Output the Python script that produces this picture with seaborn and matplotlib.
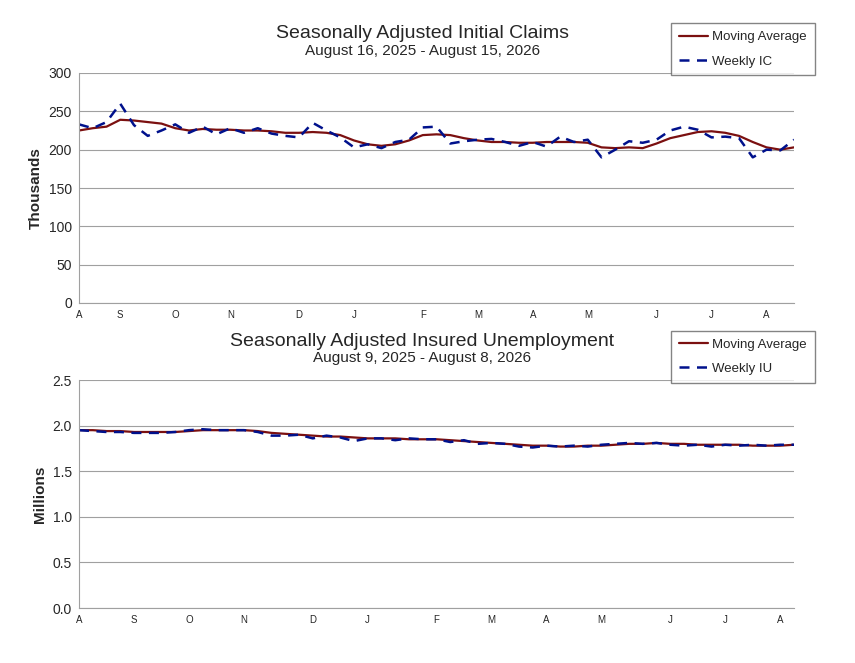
import matplotlib
matplotlib.use("Agg")
import matplotlib.pyplot as plt
import seaborn as sns
import numpy as np

sns.set_style("white")
plt.rcParams['font.family'] = ['Liberation Sans', 'DejaVu Sans']

# weekly initial claims (thousands)
ic_weekly = [233, 228, 236, 260, 232, 218, 225, 233, 222, 230, 220, 228, 222, 228, 221,
             218, 216, 235, 225, 216, 203, 207, 202, 210, 213, 229, 230, 208, 211, 213,
             214, 210, 205, 210, 204, 217, 210, 213, 190, 200, 211, 209, 213, 225, 230,
             226, 216, 217, 215, 190, 200, 199, 213]
ic_ma = [225, 228, 230, 239, 238, 236, 234, 228, 225, 227, 226, 226, 225, 225, 224,
         222, 222, 223, 222, 219, 212, 207, 205, 207, 212, 219, 220, 219, 215, 212,
         210, 210, 209, 209, 210, 210, 210, 209, 203, 202, 203, 202, 208, 215, 219,
         223, 224, 222, 218, 210, 203, 200, 203]
ic_ticks = [0, 3, 7, 11, 16, 20, 25, 29, 33, 37, 42, 46, 50]
ic_labels = ['A', 'S', 'O', 'N', 'D', 'J', 'F', 'M', 'A', 'M', 'J', 'J', 'A']

# weekly insured unemployment (millions)
iu_weekly = [1.95, 1.94, 1.93, 1.93, 1.92, 1.92, 1.92, 1.93, 1.95, 1.96, 1.95, 1.95, 1.95,
             1.93, 1.89, 1.89, 1.90, 1.86, 1.89, 1.87, 1.83, 1.86, 1.86, 1.84, 1.86, 1.85,
             1.85, 1.82, 1.84, 1.80, 1.81, 1.80, 1.77, 1.76, 1.78, 1.77, 1.78, 1.77, 1.79,
             1.80, 1.81, 1.80, 1.81, 1.79, 1.78, 1.79, 1.77, 1.79, 1.78, 1.79, 1.78, 1.79, 1.79]
iu_ma = [1.95, 1.95, 1.94, 1.94, 1.93, 1.93, 1.93, 1.93, 1.94, 1.95, 1.95, 1.95, 1.95,
         1.94, 1.92, 1.91, 1.90, 1.89, 1.88, 1.88, 1.87, 1.86, 1.86, 1.86, 1.85, 1.85,
         1.85, 1.84, 1.83, 1.82, 1.81, 1.80, 1.79, 1.78, 1.78, 1.77, 1.77, 1.78, 1.78,
         1.79, 1.80, 1.80, 1.81, 1.80, 1.80, 1.79, 1.79, 1.79, 1.79, 1.78, 1.78, 1.78, 1.79]
iu_ticks = [0, 4, 8, 12, 17, 21, 26, 30, 34, 38, 43, 47, 51]

W, H = 855, 663
fig = plt.figure(figsize=(W / 100, H / 100), dpi=100)

def panel(rect, weekly, ma, ticks, ylim, yticks, fmt, ylabel, title, sub, wlab, legx):
    ax = fig.add_axes(rect)
    x = np.arange(len(weekly))
    sns.lineplot(x=x, y=ma, ax=ax, color='#7b1010', lw=1.6, label='Moving Average')
    sns.lineplot(x=x, y=weekly, ax=ax, color='#00118c', lw=1.8, label=wlab)
    ax.lines[-1].set_linestyle((0, (4, 3)))
    ax.set_xlim(0, len(weekly) - 1)
    ax.set_ylim(*ylim)
    ax.set_yticks(yticks)
    ax.set_yticklabels([fmt.format(v) for v in yticks], fontsize=10)
    ax.set_xticks(ticks)
    ax.set_xticklabels(ic_labels, fontsize=7)
    ax.grid(axis='y', color='#a0a0a0', lw=0.8)
    for s in ['top', 'right']:
        ax.spines[s].set_visible(False)
    for s in ['left', 'bottom']:
        ax.spines[s].set_color('#a0a0a0')
    ax.tick_params(axis='both', length=3, color='#a0a0a0', pad=2)
    ax.set_ylabel(ylabel, fontsize=11, fontweight='bold')
    ax.legend(loc='upper right', bbox_to_anchor=(legx, 1.245), fontsize=9.5,
              frameon=True, fancybox=False, edgecolor='#666666',
              borderpad=0.6, labelspacing=0.9, handlelength=2.2, handletextpad=0.3)
    ax.text(0.48, 1.15, title, transform=ax.transAxes, ha='center', fontsize=14)
    ax.text(0.48, 1.08, sub, transform=ax.transAxes, ha='center', fontsize=11)
    return ax

panel([79 / W, 1 - 303 / H, 715 / W, 230 / H], ic_weekly, ic_ma, ic_ticks,
      (0, 300), [0, 50, 100, 150, 200, 250, 300], '{:.0f}', 'Thousands',
      'Seasonally Adjusted Initial Claims', 'August 16, 2025 - August 15, 2026',
      'Weekly IC', 1.038)
panel([79 / W, 1 - 608 / H, 715 / W, 228 / H], iu_weekly, iu_ma, iu_ticks,
      (0, 2.5), [0, 0.5, 1.0, 1.5, 2.0, 2.5], '{:.1f}', 'Millions',
      'Seasonally Adjusted Insured Unemployment', 'August 9, 2025 - August 8, 2026',
      'Weekly IU', 1.038)

fig.savefig('out.png', dpi=100)
